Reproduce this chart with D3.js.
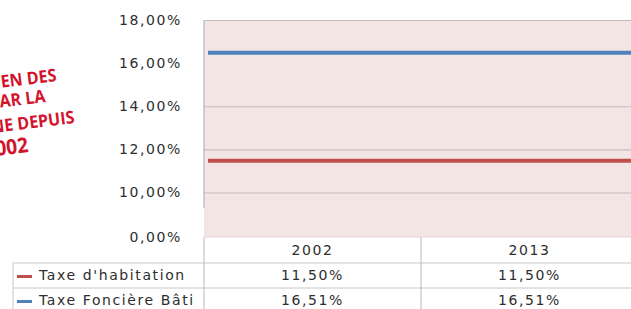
<!DOCTYPE html>
<html>
<head>
<meta charset="utf-8">
<script src="https://cdn.jsdelivr.net/npm/d3@7"></script>
<style>
  body { margin: 0; background: #fff; }
  svg { display: block; }
  .lbl { font-family: "DejaVu Sans", sans-serif; font-size: 14px; fill: #2e2e2e; letter-spacing: 1.6px; }
</style>
</head>
<body>
<svg id="chart" width="631" height="309"></svg>
<script>
// values
const years = ["2002", "2013"];
const seriesNames = ["Taxe d'habitation", "Taxe Foncière Bâti"];
const habitation = [11.50, 11.50];
const fonciere = [16.51, 16.51];
const yTicks = [0, 10, 12, 14, 16, 18];
const gridTicks = [10, 12, 14, 18];
// red heading, its left part is cropped off the page
const headingLines = ["MAINTIEN DES", "TAUX VOTÉS PAR LA", "COMMUNE DEPUIS", "2002"];

const W = 631, H = 309;
const plotLeft = 204, plotRight = 638, plotTop = 20.5, plotBottom = 237;
const rowH = 25;

const svg = d3.select("#chart");

/*
    Broken value axis: 0 sits at the bottom, then the scale jumps to 10%
*/
const y = d3.scaleLinear().domain([0, 10, 18]).range([plotBottom, 193, plotTop]);
const xBand = d3.scaleBand().domain(years).range([plotLeft, plotRight]);
const xLine = d3.scalePoint().domain(years).range([plotLeft + 4, plotRight]);

const fmt = v => d3.format(".2f")(v).replace(".", ",") + "%";

// plot background
svg.append("rect")
    .attr("x", plotLeft).attr("y", plotTop)
    .attr("width", plotRight - plotLeft).attr("height", plotBottom - plotTop)
    .attr("fill", "#f4e5e5");

// gridlines
svg.append("g").selectAll("line")
    .data(gridTicks)
    .enter().append("line")
    .attr("x1", plotLeft).attr("x2", plotRight)
    .attr("y1", d => y(d)).attr("y2", d => y(d))
    .attr("stroke", d => d === 18 ? "#bdbdbd" : "#c4bcbc")
    .attr("stroke-width", 1.2);

// value axis line stops at the break
svg.append("line")
    .attr("x1", plotLeft).attr("x2", plotLeft)
    .attr("y1", plotTop).attr("y2", 208)
    .attr("stroke", "#b5b5b5").attr("stroke-width", 1.2);

// tick labels
svg.append("g").selectAll("text")
    .data(yTicks)
    .enter().append("text")
    .attr("class", "lbl")
    .attr("x", 182)
    .attr("y", d => y(d) + (d === 0 ? 1 : 0))
    .attr("text-anchor", "end")
    .attr("dominant-baseline", "middle")
    .text(fmt);

// series lines
const seriesData = [
    { name: seriesNames[0], values: habitation, color: "#c0504d" },
    { name: seriesNames[1], values: fonciere, color: "#4f81bd" }
];
const line = d3.line()
    .x((d, i) => xLine(years[i]))
    .y(d => y(d));

svg.append("g").selectAll("path")
    .data(seriesData)
    .enter().append("path")
    .attr("d", d => line(d.values))
    .attr("fill", "none")
    .attr("stroke", d => d.color)
    .attr("stroke-width", 4);

// data table
const table = svg.append("g");
const gridCol = "#c8c8c8";
table.append("line")
    .attr("x1", plotLeft).attr("x2", W)
    .attr("y1", plotBottom).attr("y2", plotBottom)
    .attr("stroke", "#e6d2d2");
[plotBottom + rowH + 1, plotBottom + 2 * rowH + 1].forEach(yy => {
    table.append("line")
        .attr("x1", 13).attr("x2", W)
        .attr("y1", yy).attr("y2", yy)
        .attr("stroke", gridCol);
});
// column separators
[plotLeft].concat(years.map(yr => xBand(yr) + xBand.bandwidth())).forEach(xx => {
    table.append("line")
        .attr("x1", xx).attr("x2", xx)
        .attr("y1", plotBottom).attr("y2", H)
        .attr("stroke", "#b8b8b8");
});
table.append("line")
    .attr("x1", 13).attr("x2", 13)
    .attr("y1", plotBottom + rowH + 1).attr("y2", H)
    .attr("stroke", gridCol);

// header row
table.selectAll(".yr")
    .data(years)
    .enter().append("text")
    .attr("class", "lbl yr")
    .attr("x", d => xBand(d) + xBand.bandwidth() / 2)
    .attr("y", plotBottom + 13.5)
    .attr("text-anchor", "middle")
    .attr("dominant-baseline", "middle")
    .text(d => d);

// series rows
seriesData.forEach((s, r) => {
    const cy = plotBottom + rowH * (r + 1) + 13.5;
    table.append("line")
        .attr("x1", 17).attr("x2", 32)
        .attr("y1", cy + 1).attr("y2", cy + 1)
        .attr("stroke", s.color).attr("stroke-width", 3);
    table.append("text")
        .attr("class", "lbl")
        .attr("x", 39).attr("y", cy)
        .attr("dominant-baseline", "middle")
        .text(s.name);
    table.selectAll(null)
        .data(s.values)
        .enter().append("text")
        .attr("class", "lbl")
        .attr("x", (d, i) => xBand(years[i]) + xBand.bandwidth() / 2)
        .attr("y", cy)
        .attr("text-anchor", "middle")
        .attr("dominant-baseline", "middle")
        .text(fmt);
});

// red heading (cropped on the left)
const headPos = [[57, 81, 17.5], [46, 102, 17.5], [75, 123, 17.5], [29, 152, 21]];
svg.append("g").selectAll("text")
    .data(headingLines)
    .enter().append("text")
    .attr("transform", (d, i) => `translate(${headPos[i][0]},${headPos[i][1]}) rotate(-7) scale(0.92,1)`)
    .attr("text-anchor", "end")
    .attr("font-family", "'Open Sans', sans-serif")
    .attr("font-weight", "bold")
    .attr("font-size", (d, i) => headPos[i][2])
    .attr("fill", "#d2132c")
    .text(d => d);
</script>
</body>
</html>
